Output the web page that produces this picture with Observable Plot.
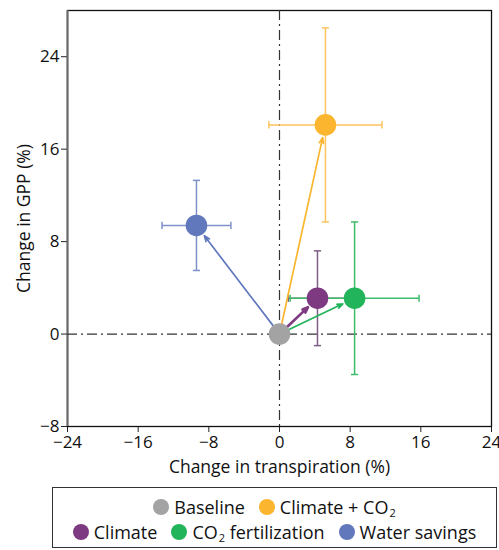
<!DOCTYPE html>
<html>
<head>
<meta charset="utf-8">
<script src="https://cdn.jsdelivr.net/npm/d3@7"></script>
<script src="https://cdn.jsdelivr.net/npm/@observablehq/plot@0.6"></script>
<style>
  body { margin: 0; background: #fff; font-family: "Open Sans", sans-serif; }
  #chart { width: 499px; }
  .legend {
    position: absolute; left: 52px; top: 487px; width: 443px; height: 59px;
    border: 1px solid #333; box-sizing: content-box;
    font-size: 18px; color: #111;
  }
  .row { display: flex; justify-content: center; align-items: center; height: 25px; }
  .row:first-child { margin-top: 6px; }
  .item { display: flex; align-items: center; margin: 0 7px; white-space: nowrap; }
  .sw { width: 16px; height: 16px; border-radius: 50%; display: inline-block; margin-right: 5px; }
  .sub { font-size: 11px; position: relative; top: 6px; margin-left: 1px; }
</style>
</head>
<body>
<div id="chart"></div>
<script>
const names    = ["Baseline", "Climate", "CO2 fertilization", "Climate + CO2", "Water savings"];
const colors   = ["#a3a3a3", "#7d3a80", "#22b45a", "#fbb52f", "#6178bd"];
const barColors= ["#a3a3a3", "#7e5e84", "#3dbd6a", "#fcc35e", "#7f91c9"];
const transp   = [0, 4.3, 8.5, 5.2, -9.4];
const gpp      = [0, 3.1, 3.1, 18.1, 9.4];
const transpErr= [0, 3.3, 7.3, 6.4, 3.9];
const gppErr   = [0, 4.1, 6.6, 8.4, 3.9];
const xTicks   = [-24, -16, -8, 0, 8, 16, 24];
const yTicks   = [-8, 0, 8, 16, 24];

const data = names.map((n, i) => ({
  name: n, color: colors[i], bar: barColors[i],
  x: transp[i], y: gpp[i], ex: transpErr[i], ey: gppErr[i]
}));
const pts = data.slice(1);
const base = data[0];

const hcap = { draw(ctx, size) { const r = Math.sqrt(size / Math.PI); ctx.moveTo(-r, 0); ctx.lineTo(r, 0); } };
const vcap = { draw(ctx, size) { const r = Math.sqrt(size / Math.PI); ctx.moveTo(0, -r); ctx.lineTo(0, r); } };

const plot = Plot.plot({
  width: 499,
  height: 484,
  marginLeft: 67,
  marginRight: 8,
  marginTop: 10,
  marginBottom: 58,
  style: { fontFamily: "Open Sans, sans-serif", fontSize: "16px", color: "#111", background: "#fff" },
  x: { domain: [-24, 24], axis: null },
  y: { domain: [-8, 28], axis: null },
  marks: [
    Plot.axisX(xTicks, { tickSize: 6, tickPadding: 3, fontSize: 17, stroke: "#222",
      label: "Change in transpiration (%)", labelAnchor: "center", labelOffset: 46, labelArrow: "none" }),
    Plot.axisY(yTicks, { tickSize: 6, tickPadding: 2, fontSize: 17, stroke: "#222",
      label: "Change in GPP (%)", labelAnchor: "center", labelOffset: 50, labelArrow: "none" }),
    Plot.frame({ stroke: "#111", strokeWidth: 1.3 }),
    Plot.ruleX([xTicks[0]], { stroke: "#6a6a6a", strokeWidth: 2 }),
    Plot.ruleX([0], { stroke: "#333", strokeWidth: 1.2, strokeDasharray: "10,4,2,4" }),
    Plot.ruleY([0], { stroke: "#333", strokeWidth: 1.2, strokeDasharray: "10,4,2,4" }),
    // error bars
    Plot.link(pts, { x1: d => d.x - d.ex, x2: d => d.x + d.ex, y1: "y", y2: "y", stroke: "bar", strokeWidth: 1.5 }),
    Plot.link(pts, { x1: "x", x2: "x", y1: d => d.y - d.ey, y2: d => d.y + d.ey, stroke: "bar", strokeWidth: 1.5 }),
    Plot.dot(pts, { x: d => d.x - d.ex, y: "y", symbol: vcap, r: 3.6, stroke: "bar", strokeWidth: 1.5 }),
    Plot.dot(pts, { x: d => d.x + d.ex, y: "y", symbol: vcap, r: 3.6, stroke: "bar", strokeWidth: 1.5 }),
    Plot.dot(pts, { x: "x", y: d => d.y - d.ey, symbol: hcap, r: 3.6, stroke: "bar", strokeWidth: 1.5 }),
    Plot.dot(pts, { x: "x", y: d => d.y + d.ey, symbol: hcap, r: 3.6, stroke: "bar", strokeWidth: 1.5 }),
    // arrows from baseline
    Plot.arrow(pts, { x1: base.x, y1: base.y, x2: "x", y2: "y", stroke: "color",
      strokeWidth: d => d.name === "Climate" ? 2.6 : 1.7, headLength: 9, headAngle: 42,
      insetStart: 10, insetEnd: 13, strokeLinejoin: "miter" }),
    // points
    Plot.dot(data, { x: "x", y: "y", r: 10.8, fill: "color" })
  ]
});
plot.querySelectorAll("g[aria-label$='tick label'] text").forEach(t => {
  t.style.fontSize = "17px"; t.style.fontFamily = "'Open Sans', sans-serif";
});
plot.querySelectorAll("[aria-label='x-axis label'], [aria-label='y-axis label']").forEach(g => g.setAttribute("font-size", "17.5px"));
document.getElementById("chart").appendChild(plot);

const legend = document.createElement("div");
legend.className = "legend";
const fmt = s => s.replace(/ /g, "&nbsp;").replace("CO2", "CO<span class=\"sub\">2</span>");
const rows = [[0, 3], [1, 2, 4]];
legend.innerHTML = rows.map(r =>
  `<div class="row">` + r.map(i =>
    `<span class="item"><span class="sw" style="background:${colors[i]}"></span>${fmt(names[i])}</span>`
  ).join("") + `</div>`).join("");
document.body.appendChild(legend);
</script>
</body>
</html>
